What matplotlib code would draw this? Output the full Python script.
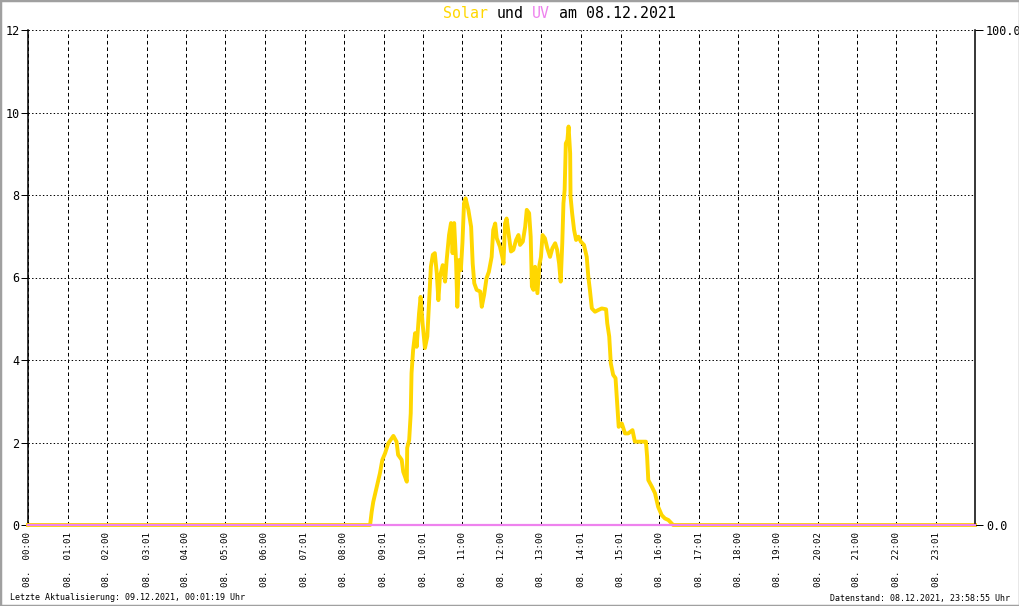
import matplotlib.pyplot as plt
from matplotlib.patches import Rectangle

plt.rcParams['font.family'] = ['DejaVu Sans Mono', 'DejaVu Sans']

# Solar, Zeit in Stunden
solar_h = [0.0, 8.67, 8.71, 8.75, 8.84, 8.92, 8.98, 9.05, 9.13, 9.26, 9.34,
           9.38, 9.47, 9.51, 9.60, 9.61, 9.66, 9.70, 9.72, 9.76, 9.81, 9.85,
           9.91, 9.95, 10.00, 10.06, 10.12, 10.17, 10.21, 10.26, 10.31, 10.36,
           10.40, 10.44, 10.51, 10.57, 10.61, 10.67, 10.72, 10.76, 10.80, 10.85,
           10.88, 10.92, 10.97, 11.01, 11.05, 11.09, 11.16, 11.23, 11.27, 11.31,
           11.37, 11.46, 11.50, 11.56, 11.62, 11.68, 11.75, 11.79, 11.84, 11.88,
           11.96, 12.02, 12.05, 12.09, 12.13, 12.19, 12.24, 12.30, 12.37, 12.43,
           12.47, 12.54, 12.60, 12.64, 12.70, 12.74, 12.77, 12.81, 12.85, 12.91,
           12.96, 13.00, 13.04, 13.10, 13.16, 13.23, 13.29, 13.36, 13.41, 13.46,
           13.50, 13.54, 13.57, 13.60, 13.63, 13.67, 13.70, 13.74, 13.75, 13.79,
           13.84, 13.89, 13.95, 14.01, 14.09, 14.16, 14.20, 14.24, 14.29, 14.37,
           14.45, 14.54, 14.65, 14.68, 14.73, 14.77, 14.83, 14.89, 14.93, 14.97,
           15.05, 15.13, 15.21, 15.32, 15.38, 15.51, 15.66, 15.69, 15.72, 15.81,
           15.89, 15.97, 16.06, 16.14, 16.23, 16.31, 16.35, 24.0]
solar_v = [0.0, 0.0, 0.32, 0.56, 0.93, 1.26, 1.58, 1.74, 1.98, 2.16, 2.02,
           1.70, 1.58, 1.29, 1.05, 1.87, 2.06, 2.71, 3.68, 4.24, 4.65, 4.32,
           5.13, 5.53, 4.89, 4.29, 4.57, 5.53, 6.26, 6.55, 6.59, 6.10,
           5.45, 6.02, 6.30, 5.90, 6.42, 7.03, 7.32, 6.59, 7.32, 6.35,
           5.29, 6.42, 6.18, 6.84, 7.80, 7.92, 7.64, 7.23, 6.34, 5.86,
           5.70, 5.66, 5.29, 5.58, 5.98, 6.14, 6.50, 7.15, 7.31, 6.95,
           6.75, 6.50, 6.34, 7.31, 7.43, 6.99, 6.63, 6.67, 6.91, 7.03,
           6.79, 6.87, 7.23, 7.64, 7.56, 6.99, 5.78, 5.70, 6.26, 5.62,
           6.30, 6.50, 7.03, 6.95, 6.71, 6.50, 6.71, 6.83, 6.67, 6.34,
           5.90, 6.83, 7.80, 8.12, 9.25, 9.33, 9.66, 9.01, 7.96, 7.56,
           7.15, 6.91, 6.99, 6.87, 6.79, 6.50, 6.02, 5.70, 5.25, 5.17,
           5.21, 5.25, 5.23, 4.89, 4.57, 3.92, 3.64, 3.56, 2.95, 2.38,
           2.46, 2.22, 2.22, 2.30, 2.02, 2.02, 2.02, 1.66, 1.09, 0.93,
           0.77, 0.44, 0.24, 0.16, 0.12, 0.04, 0.0, 0.0]

# UV (rechte Achse)
uv_h = [0.0, 24.0]
uv_v = [0.0, 0.0]

tick_times = ['00:00', '01:01', '02:00', '03:01', '04:00', '05:00', '06:00',
              '07:01', '08:00', '09:01', '10:01', '11:00', '12:00', '13:00',
              '14:01', '15:01', '16:00', '17:01', '18:00', '19:00', '20:02',
              '21:00', '22:00', '23:01']
tag = '08.'
y_ticks = [0, 2, 4, 6, 8, 10, 12]
uv_ticks = [0.0, 100.0]

W, H = 1020, 606
fig = plt.figure(figsize=(W / 100, H / 100), dpi=100)
ax = fig.add_axes([28 / W, 1 - 525 / H, (975 - 28) / W, (525 - 30) / H])

tick_pos = [int(t[:2]) + int(t[3:]) / 60 for t in tick_times]

ax.set_xlim(0, 24)
ax.set_ylim(0, 12)
ax.set_xticks(tick_pos)
ax.set_xticklabels([f'{tag}  {t}' for t in tick_times], rotation=90,
                   fontsize=6.6)
ax.set_yticks(y_ticks)
ax.set_yticklabels([str(v) for v in y_ticks], fontsize=8.5)
ax.tick_params(axis='x', length=0, pad=5)
ax.tick_params(axis='y', length=5, width=0.72, pad=1)

ax.set_axisbelow(True)
ax.yaxis.grid(True, color='k', lw=0.72, linestyle=(0, (1.4, 2.2)))
ax.xaxis.grid(True, color='k', lw=0.72, linestyle=(0, (3.6, 2.9)))
for s in ['top', 'bottom', 'right']:
    ax.spines[s].set_visible(False)
ax.spines['left'].set_linewidth(1.1)

ax.plot(solar_h, solar_v, color='#FFD700', lw=2.8, clip_on=False, zorder=3)

ax2 = ax.twinx()
ax2.set_ylim(0, 100)
ax2.set_yticks(uv_ticks)
ax2.set_yticklabels([f'{v:.1f}' for v in uv_ticks], fontsize=8.5)
ax2.tick_params(axis='y', length=6, width=0.72, pad=2)
for s in ['top', 'bottom', 'left']:
    ax2.spines[s].set_visible(False)
ax2.spines['right'].set_linewidth(1.1)
ax2.plot(uv_h, uv_v, color='#EE82EE', lw=1.6, clip_on=False, zorder=4)

# Titel mehrfarbig, feste Zeichenbreite
cw = 8.92
x0 = 443
for i, txt, col in [(0, 'Solar', '#FFD700'), (6, 'und', 'black'),
                    (10, 'UV', '#EE82EE'), (13, 'am 08.12.2021', 'black')]:
    fig.text((x0 + i * cw) / W, 1 - 14 / H, txt, color=col, fontsize=10.7,
             ha='left', va='center')

fig.text(10 / W, 1 - 598 / H, 'Letzte Aktualisierung: 09.12.2021, 00:01:19 Uhr',
         fontsize=6, ha='left', va='center')
fig.text(1010 / W, 1 - 598 / H, 'Datenstand: 08.12.2021, 23:58:55 Uhr',
         fontsize=6, ha='right', va='center')

fig.patches.append(Rectangle((0, 0), 1, 1, transform=fig.transFigure,
                             fill=False, edgecolor='#a0a0a0', lw=2.5,
                             zorder=10))

fig.savefig('out.png', dpi=100)
